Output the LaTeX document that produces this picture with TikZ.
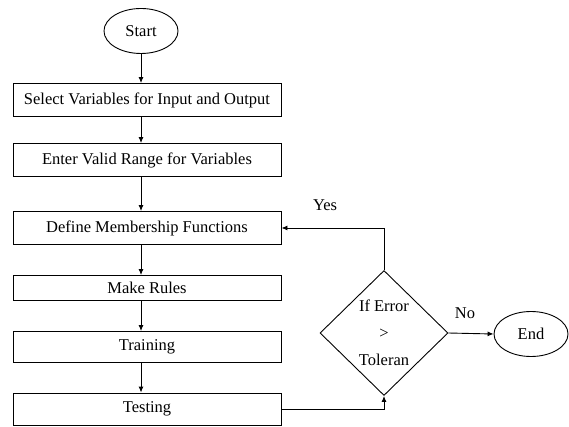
\documentclass[tikz,border=0pt]{standalone}
\usepackage{fontspec}
\setmainfont{Liberation Serif}
\usetikzlibrary{arrows.meta,shapes.geometric}

\tikzset{
  stepbox/.style={draw, line width=0.9pt, minimum width=268pt, inner sep=0pt, font=\fontsize{16.5}{18}\selectfont},
  term/.style={draw, ellipse, line width=0.9pt, minimum width=74pt, minimum height=45pt, inner sep=0pt, font=\fontsize{16.5}{18}\selectfont},
  flow/.style={-{Latex[length=6pt,width=5pt]}, line width=0.9pt},
}

\begin{document}
\begin{tikzpicture}[x=1pt, y=-1pt]
\useasboundingbox[fill=white] (0,0) rectangle (569,427);
% MAIN COLUMN: steps
\node[term] (start) at (141,31) {Start};
\node[stepbox, minimum height=33pt] (sel) at (147,100) {Select Variables for Input and Output};
\node[stepbox, minimum height=33pt] (rng) at (147,160) {Enter Valid Range for Variables};
\node[stepbox, minimum height=33pt] (mem) at (147,228) {Define Membership Functions};
\node[stepbox, minimum height=25pt] (rul) at (147,288) {Make Rules};
\node[stepbox, minimum height=31pt] (trn) at (147,347) {Training};
\node[stepbox, minimum height=32pt] (tst) at (147,409) {Testing};
\draw[flow] (start.south) -- (start.south |- sel.north);
\draw[flow] (start.south |- sel.south) -- (start.south |- rng.north);
\draw[flow] (start.south |- rng.south) -- (start.south |- mem.north);
\draw[flow] (start.south |- mem.south) -- (start.south |- rul.north);
\draw[flow] (start.south |- rul.south) -- (start.south |- trn.north);
\draw[flow] (start.south |- trn.south) -- (start.south |- tst.north);
% RIGHT SIDE: decision and end
\node[draw, diamond, line width=0.9pt, minimum width=128pt, minimum height=125pt, inner sep=0pt] (dec) at (384,333) {};
\node[align=center, font=\fontsize{16.5}{27}\selectfont] (cond) at (dec) {If Error\\>\\Toleran};
\node[term] (end) at (531,334) {End};
\draw[flow] (dec.north) |- (mem.east);
\draw[flow] (tst.east) -| (dec.south);
\draw[flow] (dec.east) -- (end.west);
\node[font=\fontsize{16.5}{18}\selectfont] (yes) at (325,205) {Yes};
\node[font=\fontsize{16.5}{18}\selectfont] (no) at (465,313) {No};
\end{tikzpicture}
\end{document}
